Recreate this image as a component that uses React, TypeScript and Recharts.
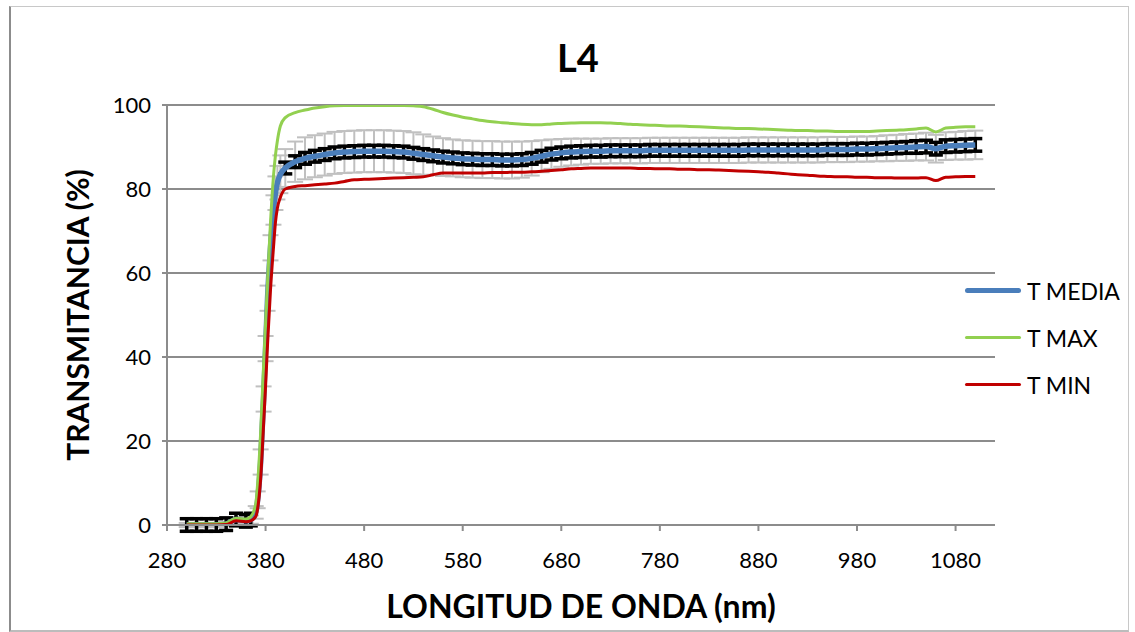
import { LineChart, Line, XAxis, YAxis, CartesianGrid, ErrorBar, Legend, Label } from 'recharts'

const FONT = 'Lato, "Open Sans", sans-serif'

// longitud de onda (nm)
const wavelength = [
  300, 310, 320, 330, 340, 350, 360, 365, 370, 372, 375, 378, 380, 382, 385, 388, 390, 392, 395,
  400, 410, 420, 430, 440, 450, 460, 470, 480, 490, 500, 510, 520, 530, 540, 550, 560, 570, 580, 590,
  600, 610, 620, 630, 640, 650, 660, 670, 680, 690, 700, 710, 720, 730, 740, 750, 760, 770, 780, 790,
  800, 810, 820, 830, 840, 850, 860, 870, 880, 890, 900, 910, 920, 930, 940, 950, 960, 970, 980, 990,
  1000, 1010, 1020, 1030, 1040, 1050, 1060, 1070, 1080, 1090, 1100,
]

const tMedia = [
  0, 0, 0, 0, 0.2, 1.3, 1.0, 1.3, 3, 6, 15, 30, 42, 54, 66, 75, 79, 81.5, 83.5,
  85.0, 86.5, 87.3, 87.8, 88.2, 88.6, 88.8, 88.9, 89.0, 89.0, 89.0, 88.9, 88.8, 88.5, 88.2, 87.9, 87.6, 87.4, 87.2, 87.1,
  87.0, 87.0, 86.9, 86.9, 87.0, 87.3, 87.8, 88.3, 88.6, 88.8, 88.9, 89.0, 89.0, 89.1, 89.1, 89.1, 89.1, 89.2, 89.2, 89.2,
  89.2, 89.2, 89.2, 89.2, 89.2, 89.2, 89.2, 89.3, 89.3, 89.3, 89.3, 89.3, 89.3, 89.3, 89.3, 89.4, 89.4, 89.4, 89.5, 89.5,
  89.6, 89.7, 89.8, 89.9, 90.0, 90.1, 89.6, 90.2, 90.3, 90.4, 90.5,
]

const tMax = [
  0.3, 0.3, 0.3, 0.3, 0.5, 1.6, 1.4, 2, 5, 10, 22, 38, 48, 58, 72, 83, 88, 91.5, 95,
  97.0, 98.2, 98.8, 99.3, 99.6, 99.8, 99.9, 99.9, 99.9, 99.9, 99.9, 99.9, 99.9, 99.8, 99.6, 99.0, 98.2, 97.6, 97.1, 96.7,
  96.3, 96.0, 95.8, 95.6, 95.4, 95.3, 95.3, 95.5, 95.6, 95.7, 95.8, 95.8, 95.8, 95.7, 95.6, 95.4, 95.3, 95.2, 95.1, 95.0,
  95.0, 94.9, 94.8, 94.7, 94.6, 94.5, 94.4, 94.4, 94.3, 94.2, 94.1, 94.0, 93.9, 93.9, 93.8, 93.8, 93.7, 93.7, 93.7, 93.7,
  93.8, 93.9, 94.0, 94.1, 94.3, 94.5, 93.6, 94.5, 94.7, 94.8, 94.8,
]

const tMin = [
  0, 0, 0, 0, 0.1, 1.0, 0.8, 1, 2, 4, 11, 24, 33, 43, 56, 66, 72, 75.5, 78,
  80.0, 80.6, 80.8, 81.0, 81.2, 81.4, 81.8, 82.2, 82.3, 82.4, 82.5, 82.6, 82.7, 82.8, 82.9, 83.4, 83.8, 83.8, 83.8, 83.8,
  83.8, 83.9, 83.9, 84.0, 84.0, 84.1, 84.2, 84.4, 84.6, 84.8, 84.9, 85.0, 85.0, 85.0, 85.0, 85.0, 84.9, 84.9, 84.8, 84.8,
  84.7, 84.7, 84.6, 84.6, 84.5, 84.4, 84.3, 84.2, 84.1, 84.0, 83.8, 83.6, 83.4, 83.3, 83.1, 83.0, 82.9, 82.9, 82.8, 82.8,
  82.7, 82.7, 82.6, 82.6, 82.6, 82.7, 82.0, 82.8, 82.9, 83.0, 83.0,
]

// desviación (barras de error grises)
const tDesv = [
  0.5, 0.5, 0.5, 0.5, 0.5, 0.6, 0.6, 1, 1.5, 2, 3, 3, 3, 3, 3, 3.5, 4, 4, 4.5,
  4.5, 4.8, 5.0, 5.0, 5.0, 5.0, 5.0, 5.0, 5.0, 5.0, 5.0, 5.0, 5.0, 5.0, 4.8, 4.6, 4.5, 4.4, 4.4, 4.4,
  4.4, 4.4, 4.4, 4.4, 4.3, 4.1, 3.8, 3.5, 3.3, 3.2, 3.1, 3.0, 3.0, 3.0, 3.0, 3.0, 3.0, 3.0, 3.0, 3.0,
  3.0, 3.0, 3.0, 3.0, 3.0, 3.0, 3.0, 3.0, 3.0, 3.0, 3.0, 3.0, 3.0, 3.0, 3.0, 3.0, 3.0, 3.0, 3.0, 3.0,
  3.0, 3.1, 3.1, 3.2, 3.2, 3.3, 3.3, 3.3, 3.3, 3.4, 3.4,
]

// error típico (barras de error negras); sin marca en la subida
const tError = [
  1.5, 1.5, 1.5, 1.5, 1.5, 1.5, 1.5, 1.5, null, null, null, null, null, null, null, null, null, null, null,
  1.4, 1.4, 1.4, 1.4, 1.4, 1.4, 1.4, 1.4, 1.4, 1.4, 1.4, 1.4, 1.4, 1.4, 1.4, 1.4, 1.4, 1.4, 1.4, 1.4,
  1.4, 1.4, 1.4, 1.4, 1.4, 1.4, 1.4, 1.4, 1.4, 1.4, 1.4, 1.4, 1.4, 1.4, 1.4, 1.4, 1.4, 1.4, 1.4, 1.4,
  1.4, 1.4, 1.4, 1.4, 1.4, 1.4, 1.4, 1.4, 1.4, 1.4, 1.4, 1.4, 1.4, 1.4, 1.4, 1.4, 1.4, 1.4, 1.4, 1.4,
  1.4, 1.4, 1.4, 1.4, 1.5, 1.5, 1.5, 1.5, 1.5, 1.5, 1.5,
]

const xTicks = [280, 380, 480, 580, 680, 780, 880, 980, 1080]
const yTicks = [0, 20, 40, 60, 80, 100]

const legendItems = [
  { name: 'T MEDIA', color: '#4a7ebb', thick: 5 },
  { name: 'T MAX', color: '#92d050', thick: 3 },
  { name: 'T MIN', color: '#c00000', thick: 3 },
]

const data = wavelength.map((nm, i) => ({
  nm,
  media: tMedia[i],
  max: tMax[i],
  min: tMin[i],
  desv: tDesv[i],
  err: tError[i],
}))

function renderLegend() {
  return (
    <div style={{ fontFamily: FONT, fontSize: 23, color: '#000' }}>
      {legendItems.map((item) => (
        <div key={item.name} style={{ display: 'flex', alignItems: 'center', height: 47 }}>
          <span
            style={{
              display: 'inline-block',
              width: 56,
              height: item.thick,
              background: item.color,
              borderRadius: item.thick / 2,
              marginRight: 6,
            }}
          />
          <span>{item.name}</span>
        </div>
      ))}
    </div>
  )
}

export default function App() {
  const tick = { fill: '#000', fontSize: 22, fontFamily: FONT }
  return (
    <div style={{ position: 'absolute', left: 0, top: 0, width: 1135, height: 632, background: '#fff' }}>
      <div
        style={{
          position: 'absolute',
          left: 9,
          top: 6,
          width: 1117,
          height: 623,
          borderTop: '1px solid #c8c8c8',
          borderRight: '1px solid #c8c8c8',
          borderBottom: '2px solid #bcbcbc',
          borderLeft: '2px solid #8c8c8c',
        }}
      />
      <div
        style={{
          position: 'absolute',
          left: 478,
          top: 38,
          width: 200,
          textAlign: 'center',
          fontFamily: FONT,
          fontWeight: 700,
          fontSize: 38,
          lineHeight: '38px',
          color: '#000',
        }}
      >
        L4
      </div>
      <LineChart
        width={1135}
        height={632}
        data={data}
        margin={{ top: 105, right: 140, left: 0, bottom: 0 }}
        style={{ position: 'absolute', left: 0, top: 0 }}
      >
        <CartesianGrid vertical={false} stroke='#8c8c8c' strokeWidth={2} />
        <XAxis
          dataKey='nm'
          type='number'
          domain={[280, 1120]}
          ticks={xTicks}
          height={107}
          tick={tick}
          tickSize={6}
          tickMargin={21}
          stroke='#8c8c8c'
          strokeWidth={2}
        >
          <Label
            value='LONGITUD DE ONDA (nm)'
            position='insideBottom'
            offset={14}
            style={{ fontFamily: FONT, fontWeight: 700, fontSize: 32, fill: '#000' }}
          />
        </XAxis>
        <YAxis
          type='number'
          domain={[0, 100]}
          allowDataOverflow
          ticks={yTicks}
          width={167}
          tick={tick}
          tickSize={5}
          tickMargin={11}
          stroke='#8c8c8c'
          strokeWidth={2}
        >
          <Label
            value='TRANSMITANCIA (%)'
            position='center'
            angle={-90}
            dx={-5}
            style={{ fontFamily: FONT, fontWeight: 700, fontSize: 30, fill: '#000' }}
          />
        </YAxis>
        <Legend
          content={renderLegend}
          layout='horizontal'
          verticalAlign='middle'
          align='center'
          wrapperStyle={{ left: 965, top: 267, right: 'auto', bottom: 'auto', width: 170, height: 141 }}
        />
        <Line
          dataKey='media'
          stroke='none'
          dot={false}
          activeDot={false}
          legendType='none'
          isAnimationActive={false}
        >
          <ErrorBar dataKey='desv' width={8} stroke='#c0c0c0' strokeWidth={2} direction='y' />
        </Line>
        <Line
          dataKey='media'
          stroke='none'
          dot={false}
          activeDot={false}
          legendType='none'
          isAnimationActive={false}
        >
          <ErrorBar dataKey='err' width={7} stroke='#000' strokeWidth={3.5} direction='y' />
        </Line>
        <Line
          dataKey='media'
          name='T MEDIA'
          type='monotone'
          stroke='#4a7ebb'
          strokeWidth={5.5}
          dot={false}
          activeDot={false}
          isAnimationActive={false}
        />
        <Line
          dataKey='max'
          name='T MAX'
          type='monotone'
          stroke='#92d050'
          strokeWidth={3}
          dot={false}
          activeDot={false}
          isAnimationActive={false}
        />
        <Line
          dataKey='min'
          name='T MIN'
          type='monotone'
          stroke='#c00000'
          strokeWidth={3}
          dot={false}
          activeDot={false}
          isAnimationActive={false}
        />
      </LineChart>
    </div>
  )
}
